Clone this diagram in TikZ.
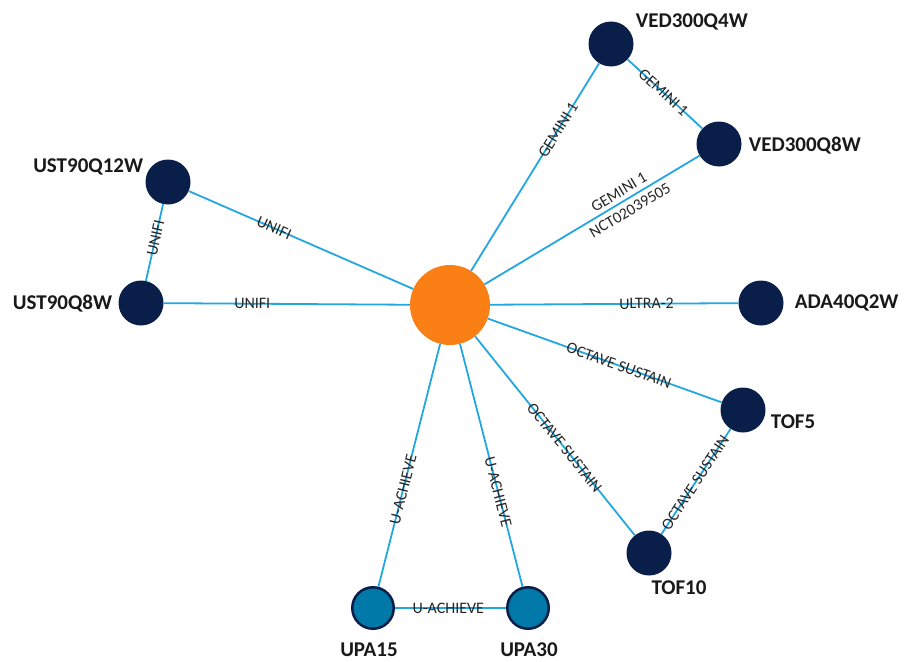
\documentclass[tikz,border=0pt]{standalone}
\usepackage{fontspec}
\setmainfont{Carlito}
\usepackage{tikz}
\usetikzlibrary{positioning}
\definecolor{navy}{HTML}{0A1E4A}
\definecolor{hubor}{HTML}{FA7F14}
\definecolor{linkblue}{HTML}{22A7E0}
\definecolor{upateal}{HTML}{0079A8}

\begin{document}
\begin{tikzpicture}[x=1pt, y=-1pt,
      hubnode/.style={circle, fill=hubor, minimum size=80pt, inner sep=0pt},
      drug/.style={circle, fill=navy, minimum size=45pt, inner sep=0pt},
      upa/.style={circle, draw=navy, line width=2.5pt, fill=upateal, minimum size=41.5pt, inner sep=0pt},
      drugname/.style={font=\fontsize{21}{24}\selectfont\bfseries, inner sep=0pt, text=black!90},
      link/.style={draw=linkblue, line width=1.8pt},
      trial/.style={font=\fontsize{16}{18}\selectfont, sloped, inner sep=1pt, text=black!85},
    ]
    \useasboundingbox (0,0) rectangle (904,661);

    % Nodes
    \node[hubnode] (hub) at (450,305) {};
    \node[drug] (q4w) at (611,44) {};
    \node[drug] (q8w) at (719,144) {};
    \node[drug] (u12w) at (168,182) {};
    \node[drug] (u8w) at (141,303) {};
    \node[drug] (ada) at (761,303) {};
    \node[drug] (tof5) at (743,410) {};
    \node[drug] (tof10) at (649,553) {};
    \node[upa] (upa15) at (373,608) {};
    \node[upa] (upa30) at (528,608) {};

    % Names
    \node[drugname, right=2pt of q4w, yshift=22pt] (lq4w) {VED300Q4W};
    \node[drugname, right=7pt of q8w, yshift=-2pt] (lq8w) {VED300Q8W};
    \node[drugname, left=2pt of u12w, yshift=15pt] (lu12w) {UST90Q12W};
    \node[drugname, left=6pt of u8w, yshift=-1pt] (lu8w) {UST90Q8W};
    \node[drugname, right=11pt of ada] (lada) {ADA40Q2W};
    \node[drugname, right=5pt of tof5, yshift=-12pt] (ltof5) {TOF5};
    \node[drugname, below=5pt of tof10, xshift=30pt] (ltof10) {TOF10};
    \node[drugname, below=13pt of upa15, xshift=-4pt] (lupa15) {UPA15};
    \node[drugname, below=13pt of upa30, xshift=1pt] (lupa30) {UPA30};

    % Edges
    \draw[link] (hub) -- node[trial, pos=.68] {GEMINI 1} (q4w);
    \draw[link] (q4w) -- node[trial, pos=.48] {GEMINI 1} (q8w);
    \draw[link] (hub) -- node[trial, pos=.65, above=3pt] {GEMINI 1}
                         node[trial, pos=.65, below=4pt] {NCT02039505} (q8w);
    \draw[link] (hub) -- node[trial, pos=.62] {UNIFI} (u12w);
    \draw[link] (u12w) -- node[trial, pos=.44] {UNIFI} (u8w);
    \draw[link] (hub) -- node[trial, pos=.64] {UNIFI} (u8w);
    \draw[link] (hub) -- node[trial, pos=.63] {ULTRA-2} (ada);
    \draw[link] (hub) -- node[trial, pos=.56] {OCTAVE SUSTAIN} (tof5);
    \draw[link] (hub) -- node[trial, pos=.56] {OCTAVE SUSTAIN} (tof10);
    \draw[link] (tof5) -- node[trial, pos=.51] {OCTAVE SUSTAIN} (tof10);
    \draw[link] (hub) -- node[trial, pos=.60] {U-ACHIEVE} (upa15);
    \draw[link] (hub) -- node[trial, pos=.61] {U-ACHIEVE} (upa30);
    \draw[link] (upa15) -- node[trial, pos=.48] {U-ACHIEVE} (upa30);

  \end{tikzpicture}
\end{document}
